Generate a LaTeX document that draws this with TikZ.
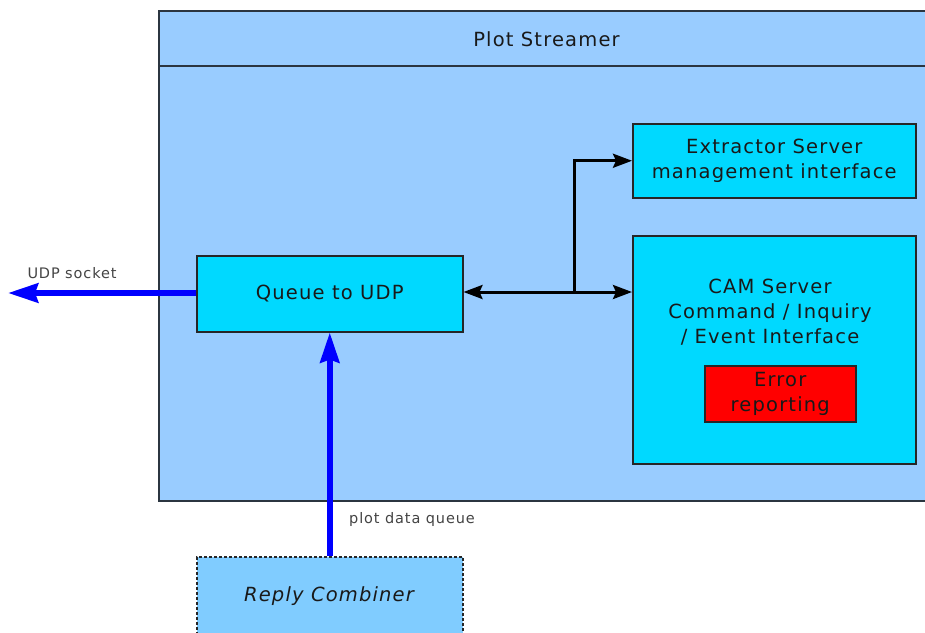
\documentclass[tikz,border=0pt]{standalone}
\usepackage{fontspec}
\setmainfont{DejaVu Sans}[LetterSpace=6]
\usetikzlibrary{arrows.meta}

\definecolor{streamerblue}{HTML}{99CCFF}
\definecolor{boxcyan}{HTML}{00D9FF}
\definecolor{combinerblue}{HTML}{80CCFF}
\definecolor{alertred}{HTML}{FF0000}
\definecolor{linkblue}{HTML}{0000FF}
\definecolor{framegray}{HTML}{2B3540}
\definecolor{labelgray}{HTML}{444444}

\tikzset{
  outerbox/.style={draw=framegray, line width=2pt, fill=streamerblue, anchor=north west, inner sep=0pt},
  component/.style={draw=black!85, line width=1.5pt, fill=boxcyan, anchor=north west, inner sep=0pt},
  errorbox/.style={draw=black!85, line width=1.5pt, fill=alertred, anchor=north west, inner sep=0pt},
  externalbox/.style={draw=black!85, line width=1.5pt, dash pattern=on 3pt off 2pt, fill=combinerblue, anchor=north west, inner sep=0pt},
  boxtext/.style={font=\fontsize{19.5}{25}\selectfont, align=center, text=black!90, inner sep=0pt},
  smalltext/.style={font=\fontsize{14.5}{17}\selectfont, text=labelgray, inner sep=0pt},
  datalink/.style={draw=linkblue, line width=6pt, -{Stealth[length=30pt,width=19pt,inset=3pt]}},
  ctrllink/.style={draw=black, line width=3pt},
}

\begin{document}
\begin{tikzpicture}[x=1pt,y=-1pt]
  \useasboundingbox (0,0) rectangle (925,632);
  \clip (0,0) rectangle (925,632);
  \fill[white] (0,0) rectangle (925,632);

  % Plot Streamer container with its title bar
  \node[outerbox, minimum width=777, minimum height=490] (streamer) at (158,10) {};
  \draw[framegray, line width=2pt] ([yshift=-56pt]streamer.north west) -- ([yshift=-56pt]streamer.north east);
  \node[boxtext] (title) at (546.5,39) {Plot Streamer};

  % Components inside the streamer
  \node[component, minimum width=266, minimum height=76] (queue) at (196,255) {};
  \node[boxtext] (queuetext) at (queue.center) {Queue to UDP};

  \node[component, minimum width=283, minimum height=74] (extractor) at (632,123) {};
  \node[boxtext] (extractortext) at (extractor.center) {Extractor Server\\management interface};

  \node[component, minimum width=283, minimum height=228] (cam) at (632,235) {};
  \node[boxtext] (camtext) at (770,312) {CAM Server\\Command / Inquiry\\/ Event Interface};

  \node[errorbox, minimum width=151, minimum height=56] (error) at (704,365) {};
  \node[boxtext] (errortext) at (error.center) {Error\\reporting};

  % External producer of plot data
  \node[externalbox, minimum width=266, minimum height=78] (combiner) at (196,556) {};
  \node[boxtext, font=\fontsize{19.5}{25}\selectfont\itshape] (combinertext) at (329,596) {Reply Combiner};

  % Data flow
  \coordinate (socket) at (8,293);
  \draw[datalink] (queue.west |- 0,293) -- (socket);
  \node[smalltext] (socketlabel) at (72,273) {UDP socket};

  \draw[datalink] (combiner.north) -- (queue.south);
  \node[smalltext] (queuelabel) at (412,519) {plot data queue};

  % Control links
  \coordinate (fork) at (574,292);
  \draw[ctrllink, {Stealth[length=19pt,width=14pt,inset=3pt]}-{Stealth[length=19pt,width=14pt,inset=3pt]}]
    (queue.east |- fork) -- (cam.west |- fork);
  \draw[ctrllink, -{Stealth[length=19pt,width=14pt,inset=3pt]}]
    (fork) |- (extractor.west);
\end{tikzpicture}
\end{document}
